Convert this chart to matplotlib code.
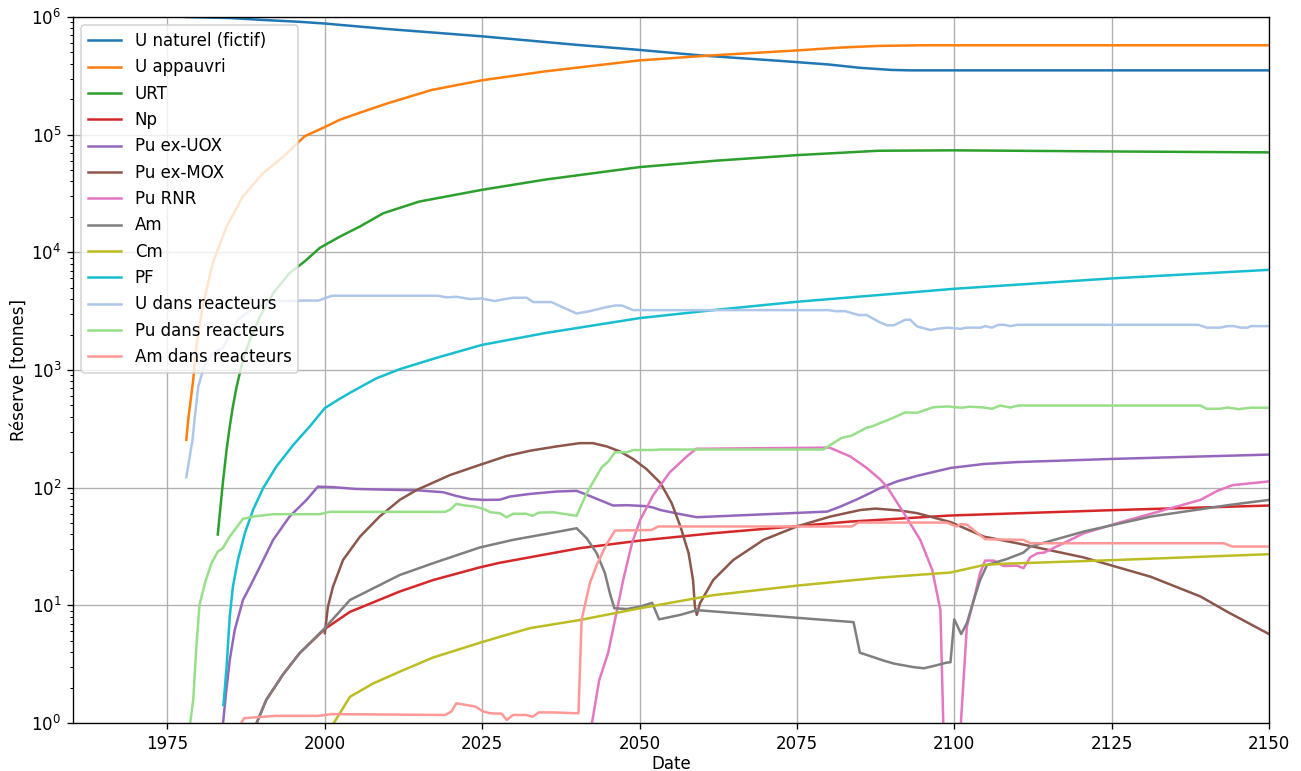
import matplotlib
matplotlib.use("Agg")
import matplotlib.pyplot as plt

# U naturel (fictif)
unat_x = [1978, 1985, 1990, 1996, 2000, 2010, 2025, 2040, 2050, 2060, 2072, 2080, 2085, 2090, 2093, 2150]
unat_y = [1.0e6, 9.8e5, 9.45e5, 9.1e5, 8.8e5, 7.9e5, 6.85e5, 5.8e5, 5.25e5, 4.7e5, 4.25e5, 3.95e5, 3.7e5,
          3.55e5, 3.52e5, 3.52e5]

# U appauvri
uapp_x = [1978.0, 1978.3, 1979.1, 1979.6, 1980.6, 1982.2, 1984.4, 1987.0, 1990.2, 1993.4, 1996.8, 2000,
          2002.4, 2005, 2010, 2017, 2025, 2035, 2050, 2061, 2075, 2082, 2088, 2095, 2150]
uapp_y = [255, 377, 826, 1585, 3470, 8100, 1.66e4, 2.99e4, 4.7e4, 6.5e4, 9.7e4, 1.16e5,
          1.34e5, 1.5e5, 1.85e5, 2.4e5, 2.9e5, 3.45e5, 4.28e5, 4.7e5, 5.2e5, 5.5e5, 5.68e5, 5.75e5, 5.75e5]

# URT
urt_x = [1983.0, 1983.8, 1984.4, 1984.9, 1985.4, 1986.0, 1987.0, 1988.1, 1989.7, 1991.8, 1994.4, 1996.8,
         1999.2, 2002.4, 2005.6, 2009.3, 2015, 2025, 2035, 2050, 2062, 2075, 2088, 2100, 2125, 2150]
urt_y = [40, 109, 210, 331, 490, 724, 1222, 1806, 2850, 4500, 6670, 8370,
         1.09e4, 1.36e4, 1.66e4, 2.15e4, 2.7e4, 3.4e4, 4.15e4, 5.3e4, 6.0e4, 6.7e4, 7.3e4, 7.36e4, 7.2e4, 7.07e4]

# Np
np_x = [1989.0, 1990.7, 1993.4, 1996.0, 2000, 2004, 2011.9, 2017.2, 2024.6, 2027.8, 2040.5, 2050.1, 2061.7,
        2083.5, 2099.4, 2125.9, 2150]
np_y = [0.95, 1.57, 2.6, 3.92, 6.3, 8.8, 13.1, 16.4, 21, 23, 30.6, 35.5, 41, 51.5, 58, 64.6, 70.5]

# Pu ex-UOX
puuox_x = [1983.8, 1984.3, 1984.9, 1985.7, 1987.0, 1988.1, 1989.7, 1991.8, 1994.4, 1997.1, 1998.9, 2001.3,
           2005.0, 2011.9, 2014.6, 2018.8, 2020.9, 2023.1, 2025.2, 2027.8, 2029.4, 2032.6, 2036.8, 2040.0,
           2042.1, 2045.8, 2048.0, 2051.1, 2052.2, 2053.3, 2056.5, 2059.1, 2079.8, 2081.9, 2084.6, 2086.6,
           2088.2, 2090.9, 2094.1, 2099.4, 2104.7, 2110, 2125.9, 2150]
puuox_y = [0.95, 1.78, 3.43, 6.2, 11.1, 14.4, 21.3, 36, 56.8, 78.7, 102, 101,
           97.5, 95.6, 95, 91.5, 85, 80, 78.7, 79, 84, 88.5, 92.7, 94,
           85, 70.5, 71, 69.6, 67.7, 64.6, 59.5, 56.1, 62.6, 69, 79.8, 89.8,
           99, 113, 126, 147, 159, 165, 176, 191]

# Pu ex-MOX
pumox_x = [2000.0, 2000.5, 2001.3, 2002.9, 2005.6, 2008.7, 2011.9, 2014.6, 2019.9, 2024.6, 2028.9, 2032.6,
           2036.8, 2040.5, 2042.6, 2044.8, 2046.9, 2049.0, 2051.1, 2053.3, 2055.1, 2056.5, 2057.8, 2058.5,
           2058.8, 2059.1, 2059.6, 2061.7, 2064.9, 2069.7, 2075.0, 2080.3, 2085.1, 2087.5, 2091.4, 2094.1,
           2099.4, 2104.7, 2110, 2120.6, 2131.2, 2139.1, 2143.4, 2150]
pumox_y = [5.8, 9.75, 14.4, 24.3, 38.4, 56.8, 78.7, 95.6, 128, 156, 186, 206,
           224, 239, 239, 224, 203, 175, 144, 110, 74, 46.8, 27.7, 16.4,
           9.75, 8.3, 10.4, 16.4, 24.3, 36, 46.8, 56.8, 64.6, 66.4, 63.9, 60.7,
           51, 38.4, 33.7, 25.5, 17.5, 11.9, 8.8, 5.7]

# Pu RNR
purnr_x = [2042.3, 2043.6, 2045.0, 2046.1, 2047.4, 2048.8, 2050.1, 2052.2, 2054.8, 2057.5, 2059.0, 2080.2,
           2082.3, 2083.5, 2086.1, 2088.2, 2089.3, 2092.0, 2094.6, 2096.5, 2097.8, 2098.3, 2098.5, 2100.8,
           2101.0, 2102.0, 2103.1, 2104.1, 2104.9, 2106.3, 2107.8, 2110, 2111.0, 2112.1, 2113.2, 2114.3,
           2120.6, 2125.9, 2139.1, 2141.8, 2144.2, 2147.1, 2150]
purnr_y = [0.9, 2.32, 3.92, 7.5, 16.4, 33.7, 53.2, 86.9, 135, 184, 214, 219,
           196, 184, 147, 118, 102, 60.7, 36, 20, 9.1, 0.8, 1e-3, 1e-3,
           0.9, 6.6, 11.1, 18.8, 24, 24, 21.6, 21.7, 20.7, 25.7, 27.7, 28.1,
           41, 49.9, 78.7, 94, 105, 109, 113]

# Am
am_x = [1989.0, 1990.7, 1993.4, 1996.0, 2000, 2004, 2011.9, 2017.2, 2024.6, 2029.9, 2035.2, 2040.0, 2041.6,
        2043.2, 2044.5, 2045.3, 2046.0, 2048.0, 2050.1, 2052.0, 2053.1, 2056.5, 2059.1, 2084.0, 2085.0,
        2088.8, 2090.4, 2093.6, 2095.2, 2096.7, 2098.8, 2099.4, 2100.0, 2101.1, 2102.0, 2103.1, 2104.1,
        2105.2, 2108.4, 2111.0, 2112.1, 2120.6, 2131.2, 2143.9, 2150]
am_y = [0.95, 1.57, 2.6, 3.92, 6.4, 11.1, 18.1, 22.8, 31, 36, 40.5, 45.2, 37.2,
        27.7, 18.8, 12.6, 9.45, 9.3, 9.75, 10.5, 7.6, 8.3, 9.1, 7.2, 3.96,
        3.39, 3.2, 2.98, 2.92, 3.05, 3.26, 3.28, 7.6, 5.7, 7.05, 11.1, 16.4,
        22, 24.8, 28.1, 31.6, 42.4, 56.8, 71.5, 78.7]

# Cm
cm_x = [2000.9, 2004, 2007.7, 2011.9, 2017.2, 2024.6, 2027.8, 2032.6, 2040.5, 2050.1, 2061.7, 2075, 2088.2,
        2099.4, 2104.7, 2107.3, 2125.9, 2150]
cm_y = [0.9, 1.67, 2.17, 2.73, 3.6, 4.8, 5.4, 6.4, 7.5, 9.45, 12.2, 14.7, 17.2, 19.0, 22, 22.5, 24.3, 27.2]

# PF
pf_x = [1983.9, 1984.4, 1984.9, 1985.4, 1986.2, 1987.3, 1988.6, 1990.2, 1992.3, 1995.0, 1997.6, 2000,
        2002.1, 2004, 2008.2, 2012, 2018, 2025, 2035, 2050, 2062, 2075, 2100, 2125, 2150]
pf_y = [1.42, 3.0, 8.0, 14.4, 24.3, 41, 64.7, 99, 151, 231, 331, 474,
        558, 640, 850, 1020, 1280, 1636, 2060, 2760, 3240, 3800, 4900, 6000, 7100]

# U dans reacteurs
ureac_x = [1978.0, 1979.0, 1979.3, 1979.9, 1980.9, 1982.2, 1983.8, 1986.2, 1988.6, 1991.8, 1996.6, 1999.0,
           2001.1, 2018.0, 2019.3, 2020.9, 2023.1, 2024.9, 2027.0, 2028.3, 2029.9, 2032.1, 2033.1, 2036.0,
           2040.0, 2042.1, 2044.3, 2046.1, 2047.2, 2049.0, 2080.0, 2081.1, 2082.7, 2084.8, 2086.1, 2088.0,
           2089.3, 2090.4, 2092.2, 2093.0, 2094.1, 2096.2, 2097.3, 2098.9, 2101.0, 2102.0, 2104.2, 2104.9,
           2106.0, 2107.0, 2108.0, 2108.9, 2110.0, 2138.8, 2140.1, 2142.2, 2143.4, 2144.4, 2145.5, 2146.6,
           2147.1, 2150]
ureac_y = [123, 257, 377, 724, 1107, 1393, 1535, 2673, 3360, 3828, 3890, 3890,
           4276, 4276, 4140, 4188, 4009, 4055, 3855, 3981, 4111, 4111, 3776, 3776,
           3020, 3162, 3381, 3532, 3532, 3228, 3228, 3162, 3162, 2931, 2931, 2570,
           2399, 2399, 2673, 2673, 2344, 2188, 2239, 2291, 2239, 2291, 2291, 2360,
           2291, 2421, 2421, 2360, 2421, 2421, 2291, 2291, 2360, 2360, 2291, 2291,
           2360, 2360]

# Pu dans reacteurs
pureac_x = [1978.5, 1979.1, 1979.6, 1980.1, 1981.1, 1982.0, 1983.0, 1983.8, 1984.9, 1987.0, 1988.6, 1991.8,
            1999.2, 2000.8, 2019.1, 2019.9, 2020.9, 2022.3, 2023.9, 2025.2, 2026.3, 2027.8, 2028.9, 2029.9,
            2032.0, 2033.0, 2034.0, 2036.3, 2040.0, 2041.6, 2044.0, 2045.0, 2046.1, 2048.0, 2049.0, 2052.2,
            2053.3, 2079.2, 2080.5, 2082.1, 2083.7, 2086.1, 2086.9, 2088.2, 2089.3, 2092.2, 2094.1, 2096.7,
            2098.9, 2101.2, 2102.4, 2104.7, 2106.0, 2107.3, 2108.9, 2110.2, 2139.1, 2140.1, 2142.2, 2143.4,
            2145.2, 2147.1, 2150]
pureac_y = [0.9, 1.57, 4.46, 10.1, 16.4, 22.8, 28.6, 30.6, 38.4, 54.3, 56.8, 59.5,
            59.5, 62.3, 62.3, 65, 72.8, 70.5, 69, 66, 61.8, 60.7, 56, 60,
            60, 57.6, 61.4, 61.8, 57.6, 89.8, 149, 166, 200, 200, 209, 209,
            211, 211, 234, 265, 277, 324, 331, 354, 372, 436, 433, 483,
            490, 478, 488, 480, 468, 499, 480, 499, 499, 468, 468, 480,
            465, 478, 478]

# Am dans reacteurs
amreac_x = [1986.5, 1987.2, 1992.2, 1998.9, 2001.1, 2019.1, 2020.1, 2020.9, 2023.9, 2025.2, 2026.3, 2028.1,
            2028.9, 2029.9, 2032.0, 2033.0, 2034.0, 2036.3, 2040.0, 2040.3, 2040.8, 2042.1, 2043.2, 2044.7,
            2046.1, 2051.9, 2053.0, 2083.7, 2084.8, 2098.8, 2100.4, 2101.0, 2102.0, 2104.9, 2111, 2112.1,
            2142.8, 2144.2, 2150]
amreac_y = [0.95, 1.1, 1.15, 1.15, 1.19, 1.17, 1.25, 1.47, 1.38, 1.25, 1.21, 1.2,
            1.06, 1.17, 1.17, 1.13, 1.23, 1.23, 1.21, 1.21, 7.5, 15.4, 22, 32.6,
            43.2, 43.7, 46.8, 46.8, 50.5, 50.5, 46.8, 49, 48.5, 36.5, 36, 33.7,
            33.7, 31.6, 31.6]

series = [
    ("U naturel (fictif)", unat_x, unat_y, "#1f77b4"),
    ("U appauvri", uapp_x, uapp_y, "#ff7f0e"),
    ("URT", urt_x, urt_y, "#2ca02c"),
    ("Np", np_x, np_y, "#d62728"),
    ("Pu ex-UOX", puuox_x, puuox_y, "#9467bd"),
    ("Pu ex-MOX", pumox_x, pumox_y, "#8c564b"),
    ("Pu RNR", purnr_x, purnr_y, "#e377c2"),
    ("Am", am_x, am_y, "#7f7f7f"),
    ("Cm", cm_x, cm_y, "#bcbd22"),
    ("PF", pf_x, pf_y, "#17becf"),
    ("U dans reacteurs", ureac_x, ureac_y, "#aec7e8"),
    ("Pu dans reacteurs", pureac_x, pureac_y, "#98df8a"),
    ("Am dans reacteurs", amreac_x, amreac_y, "#ff9896"),
]

DPI = 120
fig, ax = plt.subplots(figsize=(1301 / DPI, 771 / DPI), dpi=DPI)
fig.subplots_adjust(left=73 / 1301, right=1269 / 1301, top=1 - 17 / 771, bottom=48 / 771)

for label, xs, ys, color in series:
    ax.plot(xs, ys, label=label, color=color)

ax.set_yscale("log")
ax.set_xlim(1960, 2150)
ax.set_ylim(1, 1e6)
ax.grid(True)
ax.set_xlabel("Date", labelpad=1.5)
ax.set_ylabel("Réserve [tonnes]", labelpad=2)
ax.legend(loc="upper left")

fig.savefig("out.png", dpi=DPI)
